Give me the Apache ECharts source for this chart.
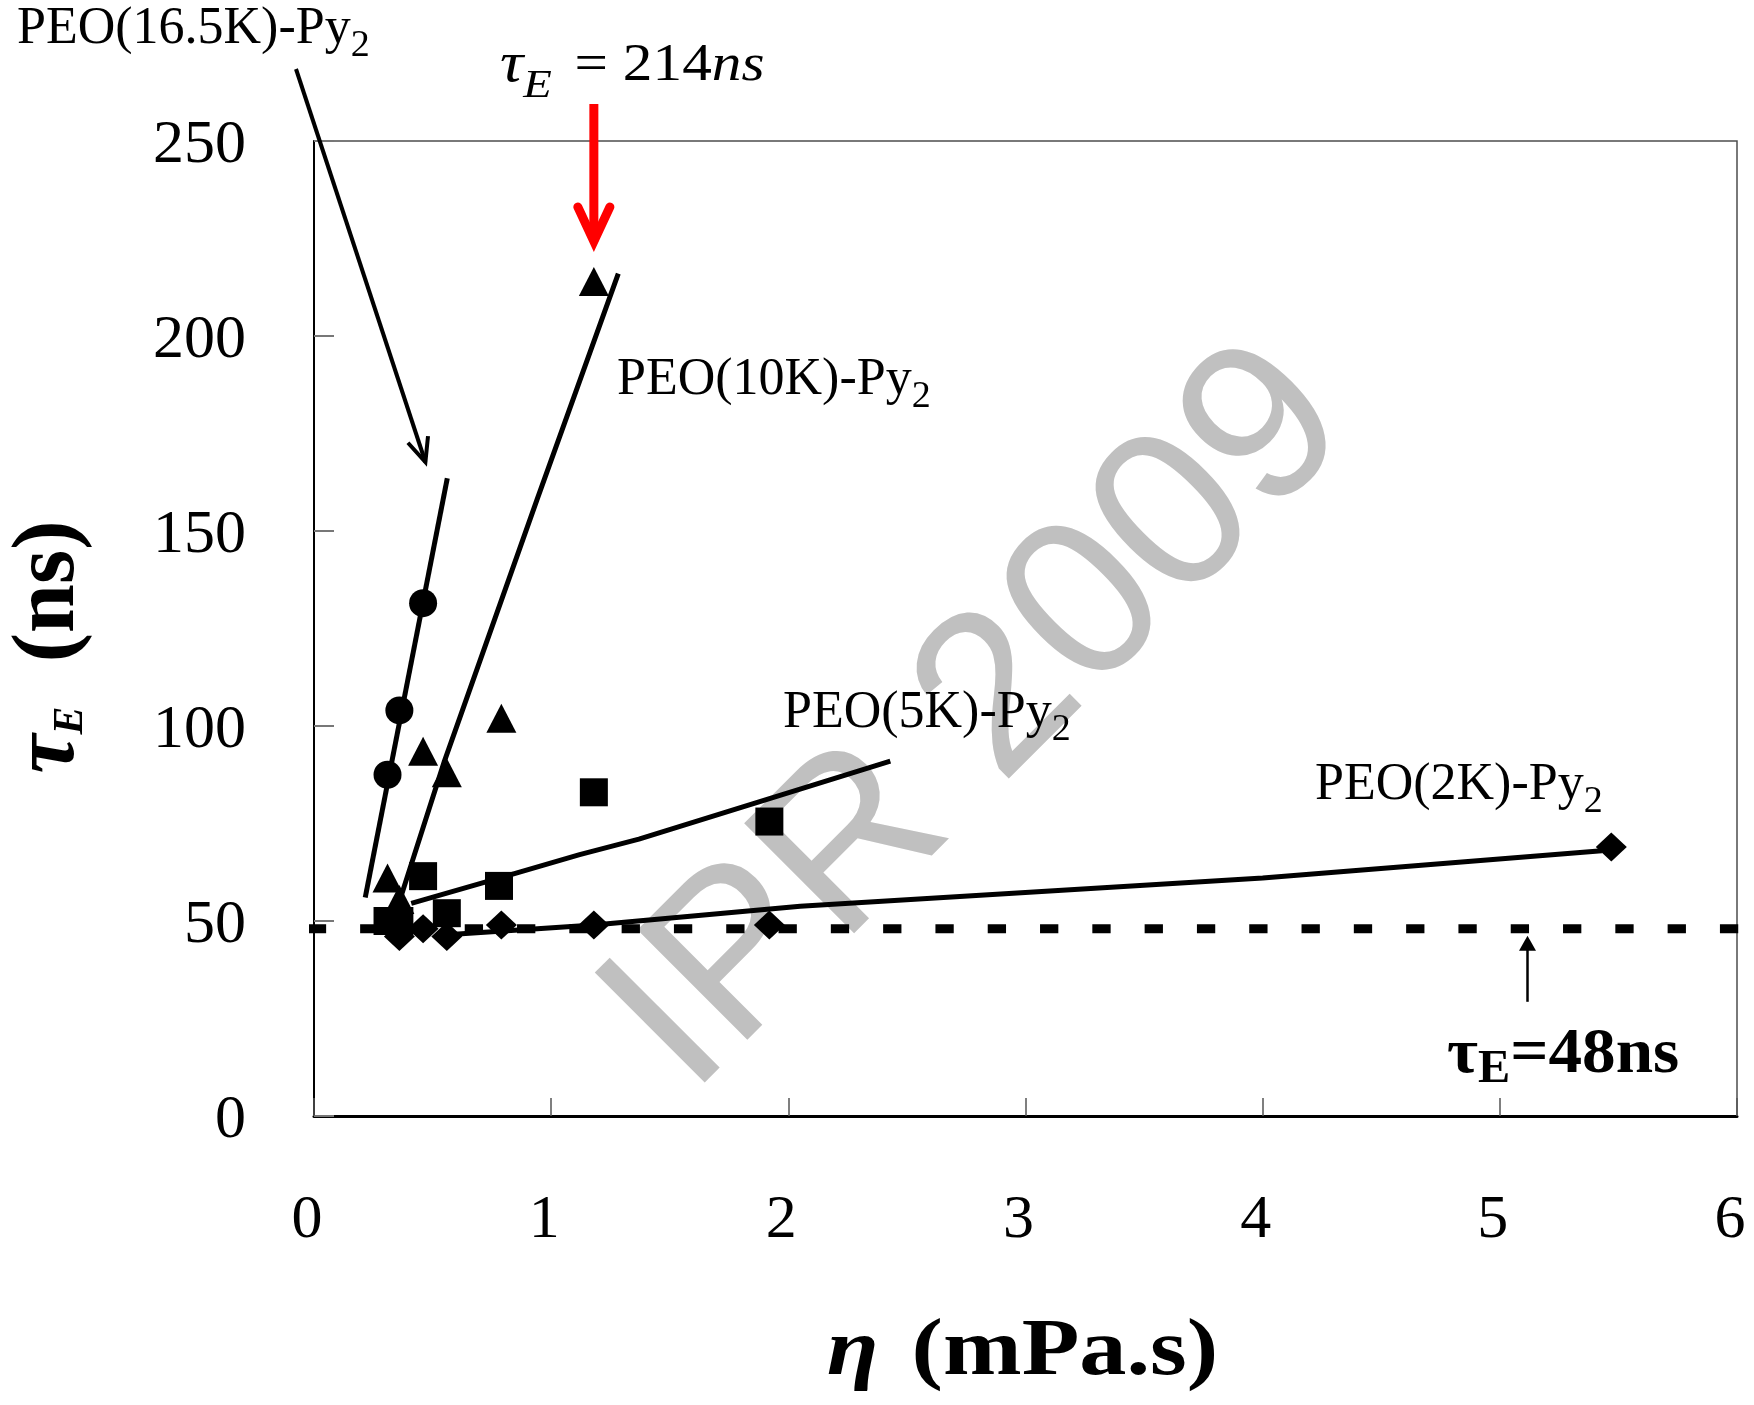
<!DOCTYPE html>
<html>
<head>
<meta charset="utf-8">
<script src="https://cdn.jsdelivr.net/npm/echarts@6/dist/echarts.min.js"></script>
<style>
  html, body { margin: 0; padding: 0; background: #fff; }
  #chart { width: 1754px; height: 1405px; }
</style>
</head>
<body>
<div id="chart"></div>
<script>
// Excimer lifetime tau_E (ns) versus solvent viscosity eta (mPa.s)
const peo165kEta = [0.31, 0.36, 0.46];
const peo165kTau = [87.5, 104, 131.5];
const peo10kEta = [0.31, 0.36, 0.46, 0.56, 0.79, 1.18];
const peo10kTau = [61, 55.5, 93.5, 88, 102, 214];
const peo5kEta = [0.31, 0.36, 0.46, 0.56, 0.78, 1.18, 1.92];
const peo5kTau = [50, 50, 61.5, 52, 59, 83, 75.5];
const peo2kEta = [0.36, 0.46, 0.56, 0.79, 1.18, 1.92, 5.47];
const peo2kTau = [46, 48, 46, 49, 49, 49, 69];

// trend curves through each chain length
const fit165kEta = [0.216, 0.562];
const fit165kTau = [56, 163.5];
const fit10kEta = [0.36, 0.55, 0.94, 1.283];
const fit10kTau = [55, 91, 158, 216];
const fit5kEta = [0.41, 0.78, 1.12, 1.37, 1.9, 2.43];
const fit5kTau = [54.5, 61, 67, 71, 81, 91];
const fit2kEta = [0.56, 1.18, 2.05, 4.0, 5.43];
const fit2kTau = [46.5, 49, 53.8, 61, 68];

// short-chain limit of the excimer lifetime, drawn a little past both frame edges
const tauLimit = 48;
const limitEta = [-0.026, 6.045];

const xTicks = [0, 1, 2, 3, 4, 5, 6];
const yTicks = [0, 50, 100, 150, 200, 250];

const SERIF = '"Liberation Serif", "Times New Roman", serif';
const SANS = '"Liberation Sans", Arial, sans-serif';

const pairs = (xs, ys) => xs.map((x, i) => [x, ys[i]]);

const chart = echarts.init(document.getElementById('chart'), null, { renderer: 'canvas' });

function fitSeries(name, xs, ys) {
  return {
    name, type: 'line', data: pairs(xs, ys), symbol: 'none', showSymbol: false,
    silent: true, z: 3, lineStyle: { color: '#000', width: 5 }
  };
}
function pointSeries(name, xs, ys, symbol, size) {
  return {
    name, type: 'scatter', data: pairs(xs, ys), symbol, symbolSize: size,
    silent: true, z: 4, itemStyle: { color: '#000', opacity: 1 }
  };
}

chart.setOption({
  animation: false,
  backgroundColor: '#fff',
  grid: {
    left: 314, top: 141, width: 1423, height: 975,
    show: true, borderColor: '#4d4d4d', borderWidth: 1.5, backgroundColor: 'transparent'
  },
  xAxis: {
    type: 'value', min: xTicks[0], max: xTicks[xTicks.length - 1], interval: xTicks[1] - xTicks[0],
    axisLine: { show: true, onZero: false, lineStyle: { color: '#000', width: 3 } },
    axisTick: { show: true, inside: true, length: 18, lineStyle: { color: '#555', width: 1.5 } },
    splitLine: { show: false },
    axisLabel: { margin: 73.5, fontFamily: SERIF, fontSize: 62, color: '#000', padding: [0, 14, 0, 0] }
  },
  yAxis: {
    type: 'value', min: yTicks[0], max: yTicks[yTicks.length - 1], interval: yTicks[1] - yTicks[0],
    axisLine: { show: true, onZero: false, lineStyle: { color: '#000', width: 2 } },
    axisTick: { show: true, inside: true, length: 20, lineStyle: { color: '#777', width: 2 } },
    splitLine: { show: false },
    axisLabel: { margin: 68, fontFamily: SERIF, fontSize: 62, color: '#000',
                 verticalAlign: 'top', lineHeight: 10 }
  },
  series: [
    {
      name: 'tau limit', type: 'line', data: pairs(limitEta, [tauLimit, tauLimit]),
      symbol: 'none', showSymbol: false, silent: true, clip: false, z: 3,
      lineStyle: { color: '#000', width: 9, type: [18.3, 34], dashOffset: 0, cap: 'butt' }
    },
    fitSeries('fit 16.5K', fit165kEta, fit165kTau),
    fitSeries('fit 10K', fit10kEta, fit10kTau),
    fitSeries('fit 5K', fit5kEta, fit5kTau),
    fitSeries('fit 2K', fit2kEta, fit2kTau),
    pointSeries('PEO(16.5K)-Py2', peo165kEta, peo165kTau, 'circle', 28),
    pointSeries('PEO(10K)-Py2', peo10kEta, peo10kTau, 'triangle', [30, 29]),
    pointSeries('PEO(5K)-Py2', peo5kEta, peo5kTau, 'rect', 28),
    pointSeries('PEO(2K)-Py2', peo2kEta, peo2kTau, 'diamond', [31, 29])
  ]
});

// ---- annotations ----
const toPx = (p) => chart.convertToPixel({ gridIndex: 0 }, p);

// label with a subscript "2": text placed by its left edge and baseline
function peoLabel(x, baseline, main) {
  return {
    type: 'text', x: x, y: baseline - 17.5, z: 50,
    style: {
      text: '{m|' + main + '}{s|2}', textAlign: 'left', textVerticalAlign: 'middle', fill: '#000',
      rich: {
        m: { fontFamily: SERIF, fontSize: 52, lineHeight: 71.5, fill: '#000' },
        s: { fontFamily: SERIF, fontSize: 38, lineHeight: 38, verticalAlign: 'bottom', fill: '#000' }
      }
    }
  };
}

// open "V" arrow head
function chevron(tip, from, len, angDeg) {
  const dx = tip[0] - from[0], dy = tip[1] - from[1];
  const d = Math.hypot(dx, dy);
  const ux = dx / d, uy = dy / d;
  const a = angDeg * Math.PI / 180;
  const rot = (s) => [ux * Math.cos(s) - uy * Math.sin(s), ux * Math.sin(s) + uy * Math.cos(s)];
  const r1 = rot(a), r2 = rot(-a);
  return [[tip[0] - r1[0] * len, tip[1] - r1[1] * len], tip, [tip[0] - r2[0] * len, tip[1] - r2[1] * len]];
}

const peakIdx = peo10kTau.indexOf(Math.max(...peo10kTau));
const peakPx = toPx([peo10kEta[peakIdx], peo10kTau[peakIdx]]);
const redTip = [peakPx[0], peakPx[1] - 40];
const redTail = [peakPx[0], 104];

const blackTail = [296, 69];
const blackTip = [425.4, 462];

const limitY = toPx([0, tauLimit])[1];
const smallX = 1527.5;
const smallTip = [smallX, limitY + 7];

const graphics = [
  // watermark
  {
    type: 'text', x: 979, y: 720, rotation: Math.PI / 4, z: 0, silent: true,
    style: { text: 'IPR 2009', fontFamily: SANS, fontSize: 226, fill: '#c0c0c0',
             textAlign: 'center', textVerticalAlign: 'middle' }
  },
  peoLabel(17, 47, 'PEO(16.5K)-Py'),
  peoLabel(617, 398, 'PEO(10K)-Py'),
  peoLabel(783, 731, 'PEO(5K)-Py'),
  peoLabel(1315, 803, 'PEO(2K)-Py'),
  // peak lifetime note
  {
    type: 'text', x: 500, y: 83.7 - 17.5, scaleX: 1.14, z: 50,
    style: {
      text: '{t|τ}{e|E}{m|= ' + peo10kTau[peakIdx] + '}{n|ns}',
      textAlign: 'left', textVerticalAlign: 'middle', fill: '#000',
      rich: {
        t: { fontFamily: SERIF, fontSize: 57, fontStyle: 'italic', lineHeight: 82, fill: '#000' },
        e: { fontFamily: SERIF, fontSize: 41, fontStyle: 'italic', lineHeight: 41, verticalAlign: 'bottom', fill: '#000' },
        m: { fontFamily: SERIF, fontSize: 52, lineHeight: 82, padding: [0, 0, 0, 20], fill: '#000' },
        n: { fontFamily: SERIF, fontSize: 52, fontStyle: 'italic', lineHeight: 82, fill: '#000' }
      }
    }
  },
  // red arrow onto the peak
  {
    type: 'line', z: 50, shape: { x1: redTail[0], y1: redTail[1], x2: redTip[0], y2: redTip[1] },
    style: { stroke: '#ff0000', lineWidth: 9 }
  },
  {
    type: 'polyline', z: 50, shape: { points: chevron(redTip, redTail, 38, 25) },
    style: { stroke: '#ff0000', lineWidth: 9, fill: null, lineJoin: 'miter', lineCap: 'round' }
  },
  // arrow from the 16.5K label to its curve
  {
    type: 'line', z: 50, shape: { x1: blackTail[0], y1: blackTail[1], x2: blackTip[0], y2: blackTip[1] },
    style: { stroke: '#000', lineWidth: 4 }
  },
  {
    type: 'polyline', z: 50, shape: { points: chevron(blackTip, blackTail, 26, 24) },
    style: { stroke: '#000', lineWidth: 4, fill: null, lineJoin: 'miter' }
  },
  // small arrow to the limit line
  {
    type: 'line', z: 50, shape: { x1: smallX, y1: limitY + 73, x2: smallX, y2: smallTip[1] + 12 },
    style: { stroke: '#000', lineWidth: 2.5 }
  },
  {
    type: 'polygon', z: 50,
    shape: { points: [[smallX - 8.5, smallTip[1] + 15], smallTip, [smallX + 8.5, smallTip[1] + 15]] },
    style: { fill: '#000' }
  },
  {
    type: 'text', x: 1447, y: 1077 - 21.6, scaleX: 1.05, z: 50,
    style: {
      text: '{t|τ}{e|E}{m|=' + tauLimit + 'ns}',
      textAlign: 'left', textVerticalAlign: 'middle', fill: '#000',
      rich: {
        t: { fontFamily: SERIF, fontSize: 64, fontWeight: 'bold', lineHeight: 76, fill: '#000' },
        e: { fontFamily: SERIF, fontSize: 46, fontWeight: 'bold', lineHeight: 46, verticalAlign: 'bottom', fill: '#000' },
        m: { fontFamily: SERIF, fontSize: 64, fontWeight: 'bold', lineHeight: 76, fill: '#000' }
      }
    }
  },
  // x axis title
  {
    type: 'text', x: 1022.5, y: 1380 - 27, scaleX: 1.18, z: 50,
    style: {
      text: '{e|η}{r| (mPa.s)}',
      textAlign: 'center', textVerticalAlign: 'middle', fill: '#000',
      rich: {
        e: { fontFamily: SERIF, fontSize: 80, fontWeight: 'bold', fontStyle: 'italic', lineHeight: 90, fill: '#000' },
        r: { fontFamily: SERIF, fontSize: 80, fontWeight: 'bold', lineHeight: 90, padding: [0, 0, 0, 8], fill: '#000' }
      }
    }
  },
  // y axis title
  {
    type: 'text', x: 50.3, y: 647, rotation: Math.PI / 2, z: 50,
    style: {
      text: '{t|τ}{e|E}{r|  (ns)}',
      textAlign: 'center', textVerticalAlign: 'middle', fill: '#000',
      rich: {
        t: { fontFamily: SERIF, fontSize: 88, fontWeight: 'bold', fontStyle: 'italic', lineHeight: 83, fill: '#000' },
        e: { fontFamily: SERIF, fontSize: 42, fontWeight: 'bold', fontStyle: 'italic', lineHeight: 42, verticalAlign: 'bottom', fill: '#000' },
        r: { fontFamily: SERIF, fontSize: 88, fontWeight: 'bold', lineHeight: 83, fill: '#000' }
      }
    }
  }
];

chart.setOption({ graphic: { elements: graphics } });
</script>
</body>
</html>
